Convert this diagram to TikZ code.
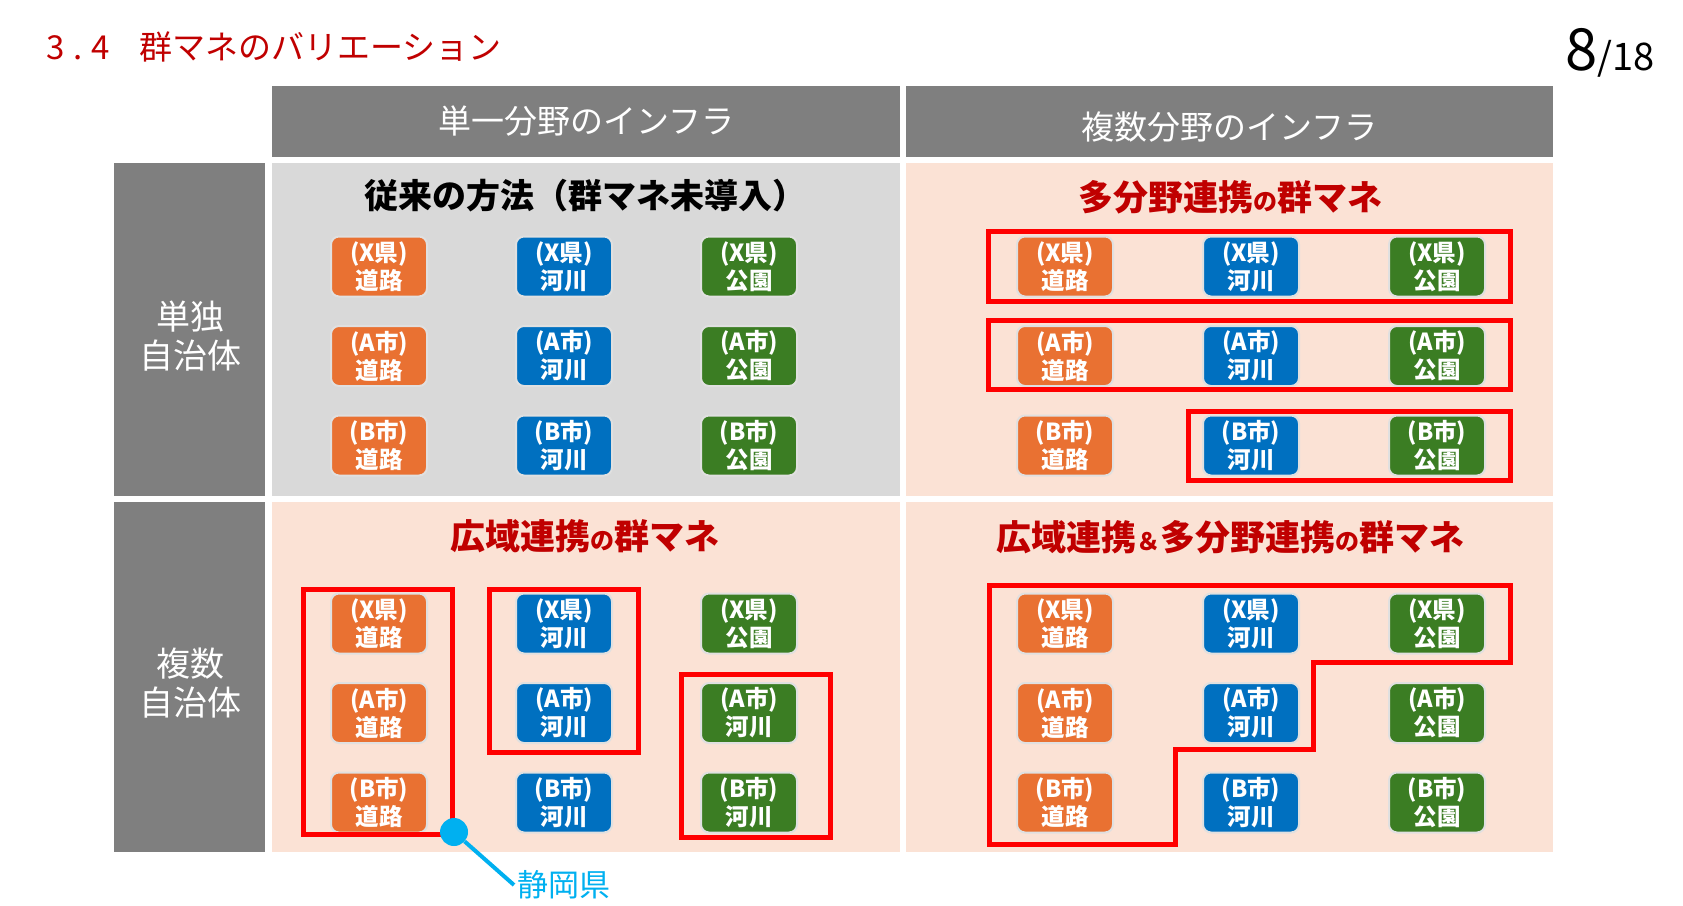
\documentclass[tikz,border=0pt]{standalone}
\usepackage{fontspec}
\setmainfont{Noto Sans CJK JP}
\usetikzlibrary{positioning}

\definecolor{titlered}{HTML}{C00000}
\definecolor{headgray}{HTML}{7F7F7F}
\definecolor{cellgray}{HTML}{D9D9D9}
\definecolor{cellpink}{HTML}{FBE2D5}
\definecolor{roadorange}{HTML}{E97132}
\definecolor{riverblue}{HTML}{0070C0}
\definecolor{parkgreen}{HTML}{3B7D23}
\definecolor{groupred}{HTML}{FF0000}
\definecolor{pincyan}{HTML}{00B0F0}

\begin{document}
\begin{tikzpicture}[
    x=1pt, y=-1pt,
    node distance=27.5pt and 87pt,
    header/.style={rectangle, fill=headgray, text=white, minimum width=628pt, minimum height=71pt, inner sep=0pt, font=\fontsize{33}{33}\selectfont},
    rowhead/.style={rectangle, fill=headgray, minimum width=151pt, inner sep=0pt},
    rowlabel/.style={text=white, align=center, inner sep=0pt, font=\fontsize{34}{39}\selectfont},
    quad/.style={rectangle, minimum width=628pt, inner sep=0pt},
    quadtitle/.style={inner sep=0pt, font=\fontsize{35}{35}\selectfont\bfseries},
    tile/.style={rectangle, rounded corners=8pt, draw=white!88!black, line width=2pt, minimum width=96pt, minimum height=60pt, inner sep=1pt, align=center, text=white, font=\fontsize{23.5}{28}\selectfont\bfseries},
    road/.style={tile, fill=roadorange},
    river/.style={tile, fill=riverblue},
    park/.style={tile, fill=parkgreen},
    group/.style={draw=groupred, line width=5pt},
    spot/.style={circle, fill=pincyan, minimum size=28pt, inner sep=0pt},
    pinline/.style={draw=pincyan, line width=4pt}
]
\useasboundingbox (0,0) rectangle (1683,905);

% Title and page
\node[anchor=base west, inner sep=0pt, text=titlered, font=\fontsize{33}{33}\selectfont] (title) at (46.5,59) {3\kern8.5pt.\kern9pt4\kern29pt群マネのバリエーション};
\node[anchor=base east, inner sep=0pt] (page) at (1655,70) {{\fontsize{58}{58}\selectfont 8}{\fontsize{38}{38}\selectfont /18}};

% Headers
\node[header] (single-head) at (586,121.5) {単一分野のインフラ};
\node[header, minimum width=647pt] (multi-head) at (1229.5,121.5) {\raisebox{-5.5pt}[\height][\depth]{複数分野のインフラ}};
\node[rowhead, minimum height=333pt] (solo-head) at (189.5,329.5) {};
\node[rowlabel] (solo-label) at (190,336.5) {単独\\自治体};
\node[rowhead, minimum height=350pt] (wide-head) at (189.5,677) {};
\node[rowlabel] (wide-label) at (190,683) {複数\\自治体};

% Quadrants
\node[quad, fill=cellgray, minimum height=333pt] (plain) at (586,329.5) {};
\node[quad, fill=cellpink, minimum width=647pt, minimum height=333pt] (field) at (1229.5,329.5) {};
\node[quad, fill=cellpink, minimum height=350pt] (area) at (586,677) {};
\node[quad, fill=cellpink, minimum width=647pt, minimum height=350pt] (both) at (1229.5,677) {};

\node[quadtitle, font=\fontsize{34}{34}\selectfont\bfseries] (plain-title) at (585,196) {従来の方法（群マネ未導入）};
\node[quadtitle, text=titlered] (field-title) at (1230,197.5) {多分野連携{\fontsize{24}{24}\selectfont の}群マネ};
\node[quadtitle, text=titlered] (area-title) at (585,536) {広域連携{\fontsize{24}{24}\selectfont の}群マネ};
\node[quadtitle, text=titlered] (both-title) at (1230,537) {広域連携{\fontsize{24}{24}\selectfont ＆}多分野連携{\fontsize{24}{24}\selectfont の}群マネ};

% Tiles: single field, single city
\node[road] (plain-x-road) at (379,266.5) {(X県)\\道路};
\node[river, right=of plain-x-road] (plain-x-river) {(X県)\\河川};
\node[park, right=of plain-x-river] (plain-x-park) {(X県)\\公園};
\node[road, below=of plain-x-road] (plain-a-road) {(A市)\\道路};
\node[river, right=of plain-a-road] (plain-a-river) {(A市)\\河川};
\node[park, right=of plain-a-river] (plain-a-park) {(A市)\\公園};
\node[road, below=of plain-a-road] (plain-b-road) {(B市)\\道路};
\node[river, right=of plain-b-road] (plain-b-river) {(B市)\\河川};
\node[park, right=of plain-b-river] (plain-b-park) {(B市)\\公園};

% Tiles: multi field, single city
\node[road] (field-x-road) at (1065,266.5) {(X県)\\道路};
\node[river, right=88pt of field-x-road] (field-x-river) {(X県)\\河川};
\node[park, right=88pt of field-x-river] (field-x-park) {(X県)\\公園};
\node[road, below=of field-x-road] (field-a-road) {(A市)\\道路};
\node[river, right=88pt of field-a-road] (field-a-river) {(A市)\\河川};
\node[park, right=88pt of field-a-river] (field-a-park) {(A市)\\公園};
\node[road, below=of field-a-road] (field-b-road) {(B市)\\道路};
\node[river, right=88pt of field-b-road] (field-b-river) {(B市)\\河川};
\node[park, right=88pt of field-b-river] (field-b-park) {(B市)\\公園};

% Tiles: single field, several cities
\node[road] (area-x-road) at (379,623.5) {(X県)\\道路};
\node[river, right=of area-x-road] (area-x-river) {(X県)\\河川};
\node[park, right=of area-x-river] (area-x-park) {(X県)\\公園};
\node[road, below=of area-x-road] (area-a-road) {(A市)\\道路};
\node[river, right=of area-a-road] (area-a-river) {(A市)\\河川};
\node[park, right=of area-a-river] (area-a-park) {(A市)\\河川};
\node[road, below=of area-a-road] (area-b-road) {(B市)\\道路};
\node[river, right=of area-b-road] (area-b-river) {(B市)\\河川};
\node[park, right=of area-b-river] (area-b-park) {(B市)\\河川};

% Tiles: multi field, several cities
\node[road] (both-x-road) at (1065,623.5) {(X県)\\道路};
\node[river, right=88pt of both-x-road] (both-x-river) {(X県)\\河川};
\node[park, right=88pt of both-x-river] (both-x-park) {(X県)\\公園};
\node[road, below=of both-x-road] (both-a-road) {(A市)\\道路};
\node[river, right=88pt of both-a-road] (both-a-river) {(A市)\\河川};
\node[park, right=88pt of both-a-river] (both-a-park) {(A市)\\公園};
\node[road, below=of both-a-road] (both-b-road) {(B市)\\道路};
\node[river, right=88pt of both-b-road] (both-b-river) {(B市)\\河川};
\node[park, right=88pt of both-b-river] (both-b-park) {(B市)\\公園};

% Groups
\draw[group] (988.5,231.5) rectangle (1510.5,301.5);
\draw[group] (988.5,320.5) rectangle (1510.5,389.5);
\draw[group] (1188.5,411.5) rectangle (1510.5,480.5);
\draw[group] (303.5,589.5) rectangle (452.5,834.5);
\draw[group] (489.5,589.5) rectangle (638.5,752.5);
\draw[group] (681.5,674.5) rectangle (830.5,837.5);
\draw[group] (989,585) -- (1510,585) -- (1510,662) -- (1313,662) -- (1313,749) -- (1175,749) -- (1175,844) -- (989,844) -- cycle;

% Callout
\node[spot] (shizuoka-spot) at (454,832) {};
\node[anchor=west, inner sep=3pt, text=pincyan, font=\fontsize{31}{31}\selectfont] (shizuoka) at (514,885) {静岡県};
\draw[pinline] (shizuoka-spot) -- (shizuoka.west);

\end{tikzpicture}
\end{document}
